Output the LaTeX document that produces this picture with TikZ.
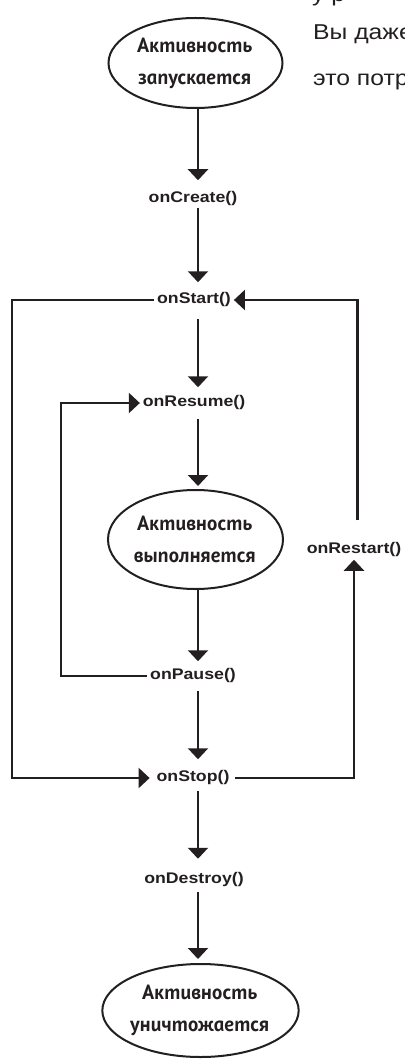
\documentclass[tikz,border=0pt]{standalone}
\usepackage{fontspec}
\usepackage{graphicx}
\setmainfont{Liberation Sans}
\newfontfamily\handfont{PT Sans}[BoldItalicFeatures={FakeSlant=-0.2}]
\usetikzlibrary{arrows.meta,shapes.geometric}
\definecolor{ink}{HTML}{231F20}
% slightly widened lettering
\newcommand{\widecall}[1]{\scalebox{1.15}[1]{#1}}
\newcommand{\widehand}[1]{\scalebox{1.03}[1]{#1}}
\tikzset{
  wire/.style={draw=ink, line width=2.2pt},
  flow/.style={wire, -{Triangle[width=20pt,length=11pt]}},
  call/.style={text=ink, font=\bfseries\fontsize{15.4}{18}\selectfont,
    inner xsep=3pt, inner ysep=0pt, text height=10.5pt, text depth=3pt, outer sep=0pt},
  state/.style={ellipse, draw=ink, line width=2pt, inner sep=0pt, align=center,
    text=ink, font=\handfont\bfseries\itshape\fontsize{20.5}{32}\selectfont},
  prose/.style={text=ink, font=\fontsize{21.5}{25}\selectfont, anchor=base west, inner sep=0pt}
}
\begin{document}
\begin{tikzpicture}[x=1pt,y=-1pt]
\useasboundingbox (0,0) rectangle (404,1059);

% running text of the page, cut by the right edge
\node[prose] (line1) at (312,2) {\widecall{у р}};
\node[prose] (line2) at (313,40) {\widecall{Вы даже}};
\node[prose] (line3) at (313,86) {\widecall{это потр}};

% states
\node[state, minimum width=174pt, minimum height=90pt] (e1) at (195.5,63)
  {\widehand{Активность}\\\widehand{запускается}};
\node[state, minimum width=175pt, minimum height=99pt] (e2) at (195.5,539.5)
  {\widehand{Активность}\\\widehand{выполняется}};
\node[state, minimum width=185pt, minimum height=93pt] (e3) at (200.5,1010.5)
  {\widehand{Активность}\\\widehand{уничтожается}};

% lifecycle callbacks
\node[call] (onCreate)  at (193,199)   {\widecall{onCreate()}};
\node[call] (onStart)   at (194,300)   {\widecall{onStart()}};
\node[call] (onResume)  at (194,403)   {\widecall{onResume()}};
\node[call] (onPause)   at (193,676)   {\widecall{onPause()}};
\node[call] (onStop)    at (193,778)   {\widecall{onStop()}};
\node[call] (onDestroy) at (194,879.5) {\widecall{onDestroy()}};
\node[call] (onRestart) at (354,550)   {\widecall{onRestart()}};

% guide columns for the connectors
\coordinate (spine) at (198,0);
\coordinate (outerL) at (12,0);
\coordinate (innerL) at (61,0);
\coordinate (rightUp) at (354,0);
\coordinate (rightTop) at (357.5,0);

% main sequence
\draw[flow, shorten >=12pt] (e1.south -| spine) -- (onCreate.north -| spine);
\draw[flow, shorten <=2pt, shorten >=11pt] (onCreate.south -| spine) -- (onStart.north -| spine);
\draw[flow, shorten <=12pt, shorten >=9pt] (onStart.south -| spine) -- (onResume.north -| spine);
\draw[flow, shorten <=9pt, shorten >=3pt] (onResume.south -| spine) -- (e2.north -| spine);
\draw[flow, shorten >=8pt] (e2.south -| spine) -- (onPause.north -| spine);
\draw[flow, shorten <=8pt, shorten >=12pt] (onPause.south -| spine) -- (onStop.north -| spine);
\draw[flow, shorten <=6pt, shorten >=14pt] (onStop.south -| spine) -- (onDestroy.north -| spine);
\draw[flow, shorten <=6pt, shorten >=4pt] (onDestroy.south -| spine) -- (e3.north -| spine);

% onStart straight to onStop
\draw[flow, shorten >=4pt] (onStart.west) -- (onStart.west -| outerL)
  -- (onStop.west -| outerL) -- (onStop.west);
% onPause back to onResume
\draw[flow] (onPause.west) -- (onPause.west -| innerL)
  -- (onResume.west -| innerL) -- (onResume.west);
% onStop up to onRestart
\draw[flow, shorten <=3pt, shorten >=3pt] (onStop.east) -- (onStop.east -| rightUp)
  -- (onRestart.south -| rightUp);
% onRestart back to onStart
\draw[flow, shorten <=23pt] (onRestart.north -| rightTop) -- (onStart.east -| rightTop)
  -- (onStart.east);
\end{tikzpicture}
\end{document}
